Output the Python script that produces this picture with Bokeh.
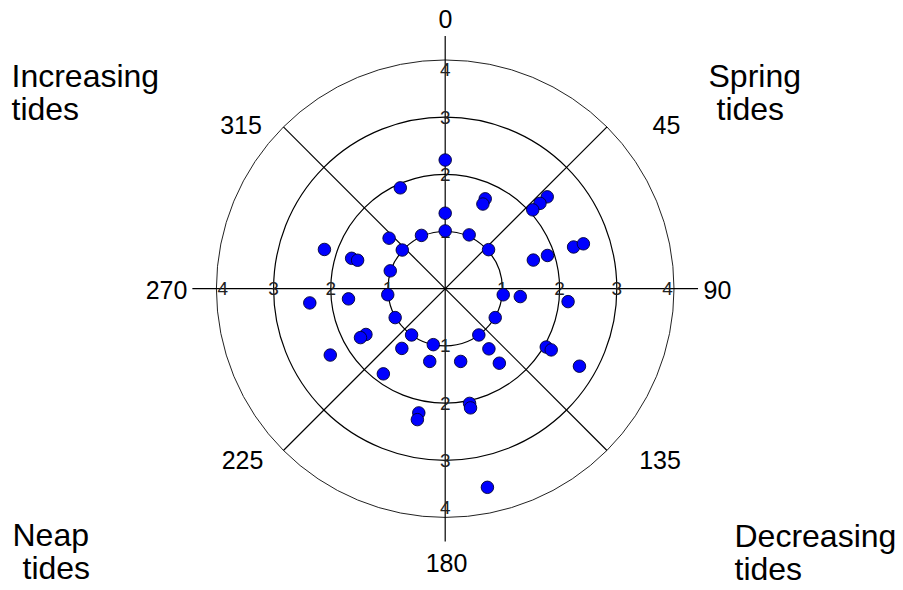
import numpy as np
from bokeh.plotting import figure
from bokeh.models import Range1d, ColumnDataSource
from bokeh.embed import file_html
from bokeh.resources import INLINE
from bokeh.core.properties import value

# ---------------- data ----------------
angles_deg = [0, 0, 0,
              24, 24, 24,
              48, 48, 48, 48,
              72, 72, 72, 72,
              96, 96, 96,
              120, 120, 120, 120,
              144, 144, 144,
              168, 168, 168, 168,
              192, 192, 192, 192,
              216, 216, 216,
              240, 240, 240, 240,
              264, 264, 264,
              288, 288, 288, 288,
              312, 312,
              336, 336]
radii = [2.25, 1.32, 1.01,
         1.72, 1.62, 1.03,
         2.40, 2.23, 2.06, 1.02,
         1.88, 1.62, 2.36, 2.54,
         1.02, 1.32, 2.16,
         1.01, 2.04, 2.14, 2.71,
         1.00, 1.30, 1.61,
         1.30, 2.05, 2.13, 3.55,
         1.00, 1.30, 2.22, 2.34,
         1.00, 1.29, 1.84,
         1.01, 1.60, 1.71, 2.32,
         1.01, 1.70, 2.38,
         1.72, 1.61, 1.01, 2.22,
         1.32, 1.01,
         1.93, 1.02]

ring_values = [1, 2, 3, 4]
ring_labels = ["1", "2", "3", "4"]
radial_axis_angles = [0, 90, 180, 270]
angle_ticks = [0, 45, 90, 135, 180, 225, 270, 315]
angle_labels = ["0", "45", "90", "135", "180", "225", "270", "315"]
corner_lines = [["Increasing", "tides"], ["Spring", "tides"],
                ["Neap", "tides"], ["Decreasing", "tides"]]

# ---------------- layout / style ----------------
W, H = 903, 590
S = 57.2                 # pixels per radial unit
CX, CY = 444.7, 288.2    # centre in canvas pixels
FONT = "Liberation Sans"


def px(x_page, y_page):
    """canvas pixel -> data coordinates"""
    return (x_page - CX) / S, (CY - y_page) / S


p = figure(width=W, height=H, output_backend="svg", toolbar_location=None,
           x_axis_type=None, y_axis_type=None, min_border=0,
           x_range=Range1d(-CX / S, (W - CX) / S),
           y_range=Range1d(-(H - CY) / S, CY / S))
p.outline_line_color = None
p.background_fill_color = "white"
p.border_fill_color = "white"

# rings
rmax = max(ring_values)
p.circle(x=[0] * len(ring_values), y=[0] * len(ring_values), radius=ring_values,
         radius_units="data", fill_color=None,
         line_color=["black", "black", "black", "#222222"],
         line_width=[1.2, 1.2, 1.2, 1.0])

# spokes: main axes extend beyond outer ring, diagonals end on it
axis_ext = 4.42
for a in [0, 90]:
    t = np.deg2rad(a)
    p.line([-axis_ext * np.sin(t), axis_ext * np.sin(t)],
           [-axis_ext * np.cos(t), axis_ext * np.cos(t)],
           line_color="black", line_width=1.2)
for a in [45, 135]:
    t = np.deg2rad(a)
    p.line([-rmax * np.sin(t), rmax * np.sin(t)],
           [-rmax * np.cos(t), rmax * np.cos(t)],
           line_color="black", line_width=1.2)

# radial tick labels on the four axes
tx, ty, tt = [], [], []
for a in radial_axis_angles:
    t = np.deg2rad(a)
    for rv, lab in zip(ring_values, ring_labels):
        inward = 0.0
        if rv == rmax:
            inward = (10.0 if a in (0, 180) else 6.5) / S
        rr = rv - inward
        tx.append(rr * np.sin(t))
        ty.append(rr * np.cos(t))
        tt.append(lab)
tick_src = ColumnDataSource(dict(x=tx, y=ty, text=tt))
p.text(x="x", y="y", text="text", source=tick_src, text_font=value(FONT),
       text_font_size="19px", text_color="#222222",
       text_align="center", text_baseline="middle")

# angle labels (offsets from centre in screen px: right, down)
angle_label_offsets = [(0.3, -270.2), (221.3, -164.2), (272.3, 0.8), (214.8, 170.8),
                       (1.3, 273.8), (-202.7, 170.8), (-278.7, 0.8), (-204.2, -164.2)]
ax = [dx / S for dx, dy in angle_label_offsets]
ay = [-dy / S for dx, dy in angle_label_offsets]
p.text(x=ax, y=ay, text=angle_labels, text_font=value(FONT),
       text_font_size=value("25px"),
       text_color="black", text_align="center", text_baseline="middle")

# data points
th = np.deg2rad(np.array(angles_deg, dtype=float))
rr = np.array(radii)
src = ColumnDataSource(dict(x=rr * np.sin(th), y=rr * np.cos(th)))
p.scatter("x", "y", source=src, size=12.5, marker="circle",
          fill_color="#0000ff", line_color="#000033", line_width=0.9)

# corner annotations (left x, first-line middle y, second-line x; canvas px)
corner_pos = [(11, 75, 11), (708, 75, 716), (12, 534, 22), (734, 535, 734)]
line_gap = 33.3
for (l1, l2), (x0, ym, x1) in zip(corner_lines, corner_pos):
    for txt, xx, yy in [(l1, x0, ym), (l2, x1, ym + line_gap)]:
        dx_, dy_ = px(xx, yy)
        p.text(x=[dx_], y=[dy_], text=[txt], text_font=value(FONT),
               text_font_size=value("32px"), text_color="black",
               text_align="left", text_baseline="middle")

open("out.html", "w").write(file_html(p, INLINE))
